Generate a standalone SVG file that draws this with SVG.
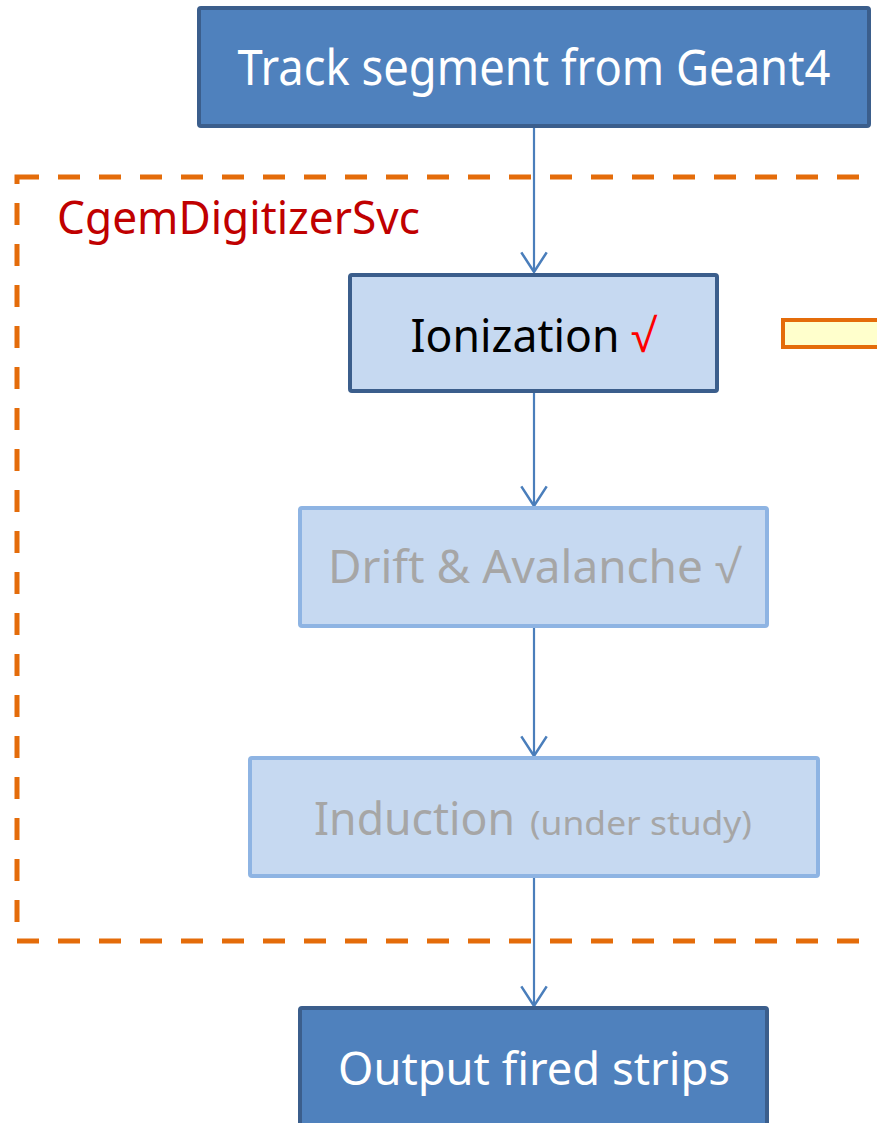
<svg xmlns="http://www.w3.org/2000/svg" width="877" height="1123" viewBox="0 0 877 1123">
  <defs>
    <!-- open "V" arrowhead, drawn pointing along +x -->
    <marker id="open-arrow" markerUnits="userSpaceOnUse" markerWidth="30" markerHeight="30" refX="20" refY="13" orient="auto" viewBox="0 0 26 26" overflow="visible">
      <path d="M3 2 L20 13 L3 24" fill="none" stroke="#4A7EBB" stroke-width="2.2"/>
    </marker>
    <style>
      .dark { fill: #4F81BD; stroke: #3B5E8C; stroke-width: 4; }
      .step { fill: #C6D9F1; stroke: #3B5E8C; stroke-width: 4; }
      .faded { fill: #C6D9F1; stroke: #8EB4E3; stroke-width: 4; }
      .lbl { font-family: "Noto Sans", "Open Sans", sans-serif; text-anchor: middle; }
      .white { fill: #FFFFFF; }
      .grey { fill: #A6A6A6; }
      .link { stroke: #4A7EBB; stroke-width: 2.2; fill: none; marker-end: url(#open-arrow); }
    </style>
  </defs>

  <rect width="877" height="1123" fill="#FFFFFF"/>

  <!-- service boundary -->
  <g id="service">
    <rect x="17" y="177" width="900" height="764" fill="none" stroke="#E46C0A" stroke-width="5" stroke-dasharray="22 19"/>
    <text x="57" y="234" font-family="Noto Sans, Open Sans, sans-serif" font-size="45" fill="#C00000" textLength="363" lengthAdjust="spacingAndGlyphs">CgemDigitizerSvc</text>
  </g>

  <g id="connectors">
    <line class="link" x1="534" y1="128" x2="534" y2="272"/>
    <line class="link" x1="534" y1="393" x2="534" y2="506"/>
    <line class="link" x1="534" y1="628" x2="534" y2="756"/>
    <line class="link" x1="534" y1="878" x2="534" y2="1006"/>
  </g>

  <g id="track-segment">
    <rect class="dark" x="199" y="8" width="670" height="118" rx="2"/>
    <text class="lbl white" x="534" y="85" font-size="50" textLength="593" lengthAdjust="spacingAndGlyphs">Track segment from Geant4</text>
  </g>

  <g id="ionization">
    <rect class="step" x="350" y="275" width="367" height="116" rx="2"/>
    <text class="lbl" x="533" y="352" font-size="45" fill="#000000" textLength="245" lengthAdjust="spacingAndGlyphs">Ionization <tspan fill="#FF0000">√</tspan></text>
  </g>

  <g id="side-note">
    <rect x="783" y="320" width="110" height="27" fill="#FFFFCC" stroke="#E46C0A" stroke-width="4"/>
  </g>

  <g id="drift-avalanche">
    <rect class="faded" x="300" y="508" width="467" height="118" rx="2"/>
    <text class="lbl grey" x="534" y="583" font-size="45" textLength="412" lengthAdjust="spacingAndGlyphs">Drift &amp; Avalanche √</text>
  </g>

  <g id="induction">
    <rect class="faded" x="250" y="758" width="568" height="118" rx="2"/>
    <text class="grey" x="314" y="835" font-family="Noto Sans, Open Sans, sans-serif" font-size="45" textLength="201" lengthAdjust="spacingAndGlyphs">Induction</text>
    <text class="grey" x="530" y="835" font-family="Noto Sans, Open Sans, sans-serif" font-size="33" textLength="222" lengthAdjust="spacingAndGlyphs">(under study)</text>
  </g>

  <g id="output-strips">
    <rect class="dark" x="300" y="1008" width="467" height="130" rx="2"/>
    <text class="lbl white" x="534" y="1085" font-size="45" textLength="392" lengthAdjust="spacingAndGlyphs">Output fired strips</text>
  </g>
</svg>
